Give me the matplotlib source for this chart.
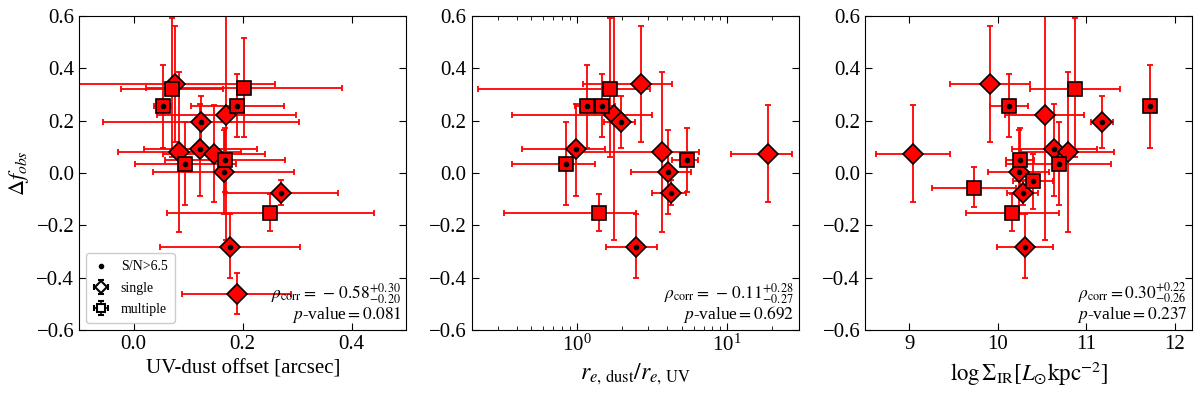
import numpy as np
import matplotlib
matplotlib.use('Agg')
import matplotlib.pyplot as plt

plt.rcParams['font.family'] = ['Liberation Serif', 'DejaVu Serif']
plt.rcParams['mathtext.fontset'] = 'stix'

nan = np.nan

# one entry per galaxy (same order in every list)
dfobs = [0.321, 0.340, 0.255, 0.326, 0.256, 0.222, 0.195, 0.093, 0.079, 0.074,
         0.036, 0.049, 0.005, -0.078, -0.152, -0.282, -0.464, -0.032, -0.056]
dfobs_lo = [0.26, 0.22, 0.158, 0.19, 0.119, 0.48, 0.10, 0.18, 0.303, 0.185,
            0.16, 0.123, 0.16, 0.045, 0.07, 0.12, 0.075, 0.105, 0.073]
dfobs_hi = [0.27, 0.22, 0.158, 0.19, 0.123, 0.45, 0.10, 0.17, 0.305, 0.185,
            0.16, 0.124, 0.16, 0.05, 0.07, 0.125, 0.08, 0.105, 0.08]
multiple = [1, 0, 1, 1, 1, 0, 0, 0, 0, 0, 1, 1, 0, 0, 1, 0, 0, 1, 1]
high_sn = [0, 0, 1, 0, 1, 0, 1, 1, 0, 0, 1, 1, 1, 1, 0, 1, 0, 1, 0]

offset = [0.070, 0.075, 0.053, 0.203, 0.190, 0.170, 0.123, 0.122, 0.084, 0.147,
          0.095, 0.167, 0.165, 0.270, 0.251, 0.177, 0.189, nan, nan]
offset_err = [0.093, 0.184, 0.016, 0.18, 0.085, 0.127, 0.18, 0.104, 0.113, 0.093,
              0.092, 0.11, 0.129, 0.104, 0.19, 0.129, 0.10, nan, nan]
size_ratio = [1.66, 2.70, 1.18, nan, 1.47, 1.77, 1.97, 0.985, 3.72, 18.9,
              0.849, 5.39, 4.04, 4.23, 1.40, 2.49, nan, nan, nan]
size_ratio_err = [1.44, 1.60, 0.21, nan, 0.32, 1.40, 0.46, 0.55, 2.8, 8.25,
                  0.48, 1.08, 1.75, 1.08, 1.07, 0.92, nan, nan, nan]
log_sigma_ir = [10.87, 9.915, 11.72, nan, 10.13, 10.53, 11.18, 10.64, 10.79, 9.04,
                10.69, 10.25, 10.235, 10.28, 10.165, 10.31, nan, 10.40, 9.73]
log_sigma_ir_err = [0.51, 0.455, 0.066, nan, 0.215, 0.445, 0.12, 0.48, 0.53, 0.415,
                    0.595, 0.16, 0.34, 0.175, 0.53, 0.32, nan, 0.225, 0.475]

rho = [-0.58, -0.11, 0.30]
rho_up = [0.30, 0.28, 0.22]
rho_dn = [0.20, 0.27, 0.26]
pval = [0.081, 0.692, 0.237]

xlabels = ['UV-dust offset [arcsec]',
           r'$r_{e,\,\rm dust}/r_{e,\,\rm UV}$',
           r'$\log\Sigma_{\rm IR}[L_{\odot}{\rm kpc}^{-2}]$']
xlabel_size = [15, 17, 16.5]

y = np.array(dfobs)
ylo = np.array(dfobs_lo)
yhi = np.array(dfobs_hi)
sq = np.array(multiple, dtype=bool)
dot = np.array(high_sn, dtype=bool)

fig = plt.figure(figsize=(12, 3.99), dpi=100)
lefts = [0.066, 0.393, 0.721]
axes = [fig.add_axes([l, 0.173, 0.2725, 0.787]) for l in lefts]

xs = [(offset, offset_err), (size_ratio, size_ratio_err), (log_sigma_ir, log_sigma_ir_err)]

for i, ax in enumerate(axes):
    x = np.array(xs[i][0])
    xe = np.array(xs[i][1])
    ok = ~np.isnan(x)
    ax.errorbar(x[ok], y[ok], xerr=xe[ok], yerr=[ylo[ok], yhi[ok]], fmt='none',
                ecolor='red', elinewidth=1.3, capsize=2.5, capthick=1.3, zorder=2)
    m = ok & ~sq
    ax.plot(x[m], y[m], 'D', ms=10.5, mfc='red', mec='black', mew=1.2, ls='none', zorder=3)
    m = ok & sq
    ax.plot(x[m], y[m], 's', ms=10.5, mfc='red', mec='black', mew=1.2, ls='none', zorder=3)
    m = ok & dot
    ax.plot(x[m], y[m], 'o', ms=3, color='black', ls='none', zorder=4)

    ax.set_ylim(-0.6, 0.6)
    ax.set_yticks(np.arange(-0.6, 0.61, 0.2))
    ax.tick_params(which='both', direction='in', top=True, right=True, labelsize=15)
    ax.tick_params(which='major', length=5)
    ax.tick_params(which='minor', length=3)
    ax.set_xlabel(xlabels[i], fontsize=xlabel_size[i])

    if rho[i] < 0:
        rtxt = r'$\rho_{\rm corr}=\,-\,%.2f^{+%.2f}_{-%.2f}$' % (-rho[i], rho_up[i], rho_dn[i])
    else:
        rtxt = r'$\rho_{\rm corr}=%.2f^{+%.2f}_{-%.2f}$' % (rho[i], rho_up[i], rho_dn[i])
    ax.text(0.985, 0.075, rtxt, transform=ax.transAxes, ha='right', va='bottom', fontsize=12.5)
    ax.text(0.985, 0.015, r'$p$-value$=%.3f$' % pval[i],
            transform=ax.transAxes, ha='right', va='bottom', fontsize=12.5)

axes[0].set_xlim(-0.1, 0.5)
axes[0].set_xticks([0.0, 0.2, 0.4])
axes[0].set_ylabel(r'$\Delta f_{obs}$', fontsize=16)

axes[1].set_xscale('log')
axes[1].set_xlim(0.2, 30)

axes[2].set_xlim(8.5, 12.2)
axes[2].set_xticks([9, 10, 11, 12])

# legend handles (nan points, so only the legend shows them)
h1, = axes[0].plot([nan], [nan], 'o', ms=3, color='black', ls='none')
h2 = axes[0].errorbar([nan], [nan], xerr=[1], yerr=[1], fmt='D', ms=6, mfc='white', mec='black',
                      mew=1.5, ecolor='black', capsize=2, elinewidth=1.2)
h3 = axes[0].errorbar([nan], [nan], xerr=[1], yerr=[1], fmt='s', ms=6, mfc='white', mec='black',
                      mew=1.5, ecolor='black', capsize=2, elinewidth=1.2)
axes[0].legend([h1, h2, h3], ['S/N>6.5', 'single', 'multiple'], loc='lower left',
               fontsize=10, handlelength=1.2, borderpad=0.5, labelspacing=0.6,
               fancybox=True, framealpha=1)

fig.savefig('out.png', dpi=100)
